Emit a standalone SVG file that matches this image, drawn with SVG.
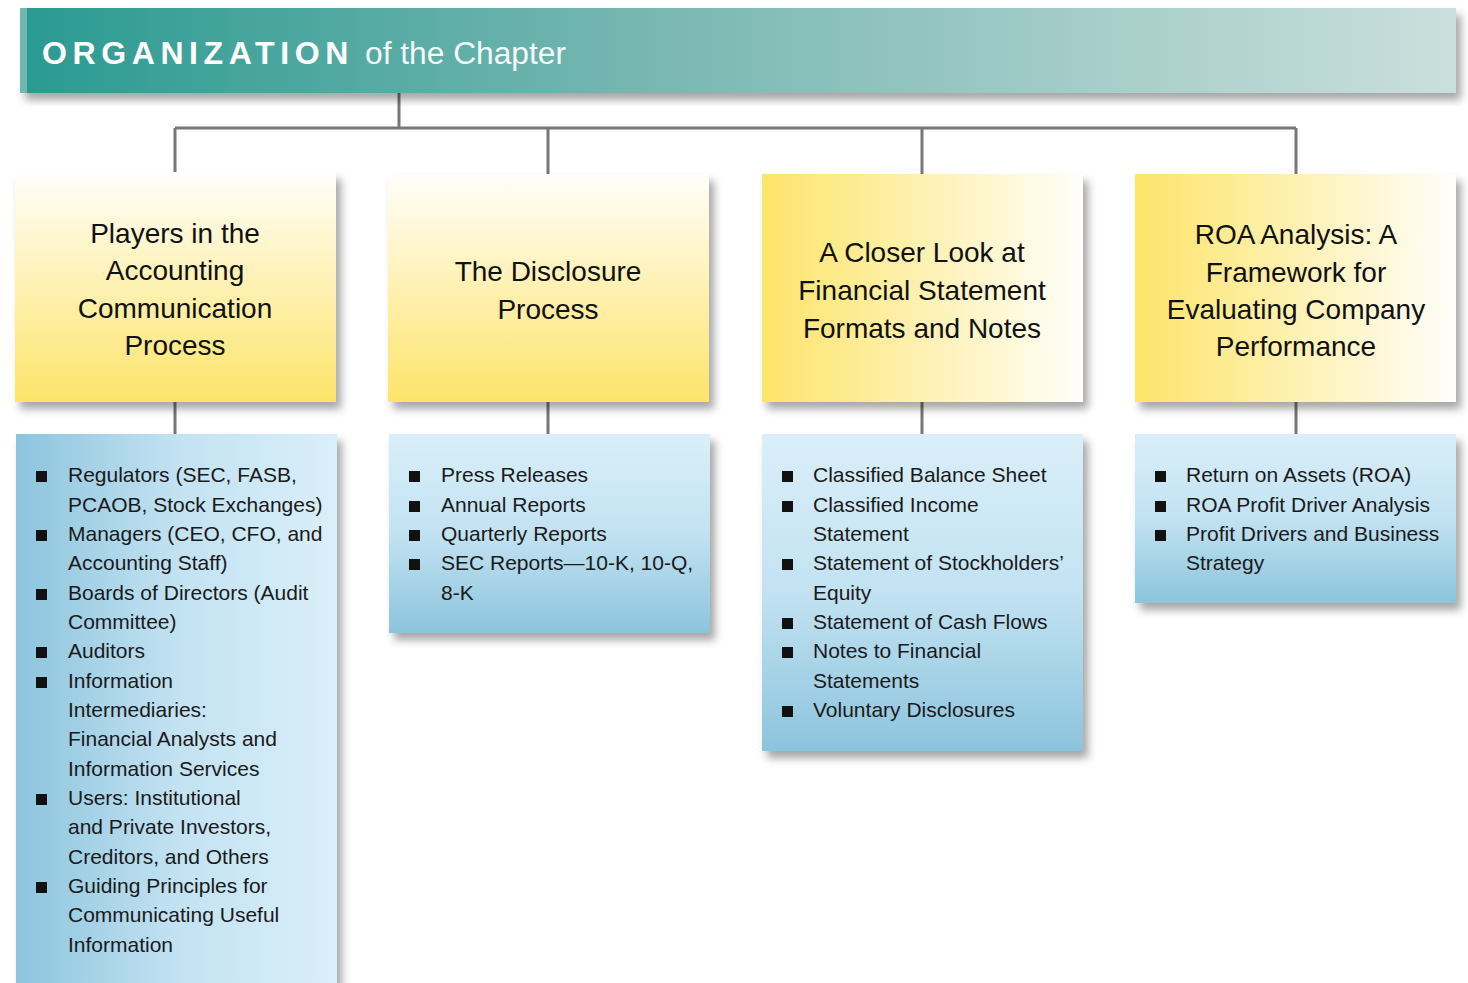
<svg xmlns="http://www.w3.org/2000/svg" width="1468" height="983" viewBox="0 0 1468 983">
<defs>
<linearGradient id="hdr" x1="0" y1="0" x2="1" y2="0">
<stop offset="0" stop-color="#2a9a91"/>
<stop offset="0.45" stop-color="#7ab8b3"/>
<stop offset="1" stop-color="#cadfdc"/>
</linearGradient>
<linearGradient id="yv" x1="0" y1="0" x2="0" y2="1">
<stop offset="0" stop-color="#fffefa"/>
<stop offset="1" stop-color="#fde46a"/>
</linearGradient>
<linearGradient id="yh" x1="0" y1="0" x2="1" y2="0">
<stop offset="0" stop-color="#fde46a"/>
<stop offset="1" stop-color="#fffefa"/>
</linearGradient>
<linearGradient id="bh" x1="0" y1="0" x2="1" y2="0">
<stop offset="0" stop-color="#8cc4dd"/>
<stop offset="0.5" stop-color="#c2e2f2"/>
<stop offset="1" stop-color="#daeff9"/>
</linearGradient>
<linearGradient id="bv" x1="0" y1="0" x2="0" y2="1">
<stop offset="0" stop-color="#daeff9"/>
<stop offset="0.5" stop-color="#c2e2f2"/>
<stop offset="1" stop-color="#8cc4dd"/>
</linearGradient>
<filter id="sh" x="-5%" y="-5%" width="115%" height="120%">
<feDropShadow dx="5" dy="7" stdDeviation="4" flood-color="#000" flood-opacity="0.35"/>
</filter>
</defs>
<style>
.conn{stroke:#777;stroke-width:3;fill:none}
.title{font-family:"Liberation Sans",Arial,sans-serif;font-size:28px;fill:#111;text-anchor:middle}
.item{font-family:"Liberation Sans",Arial,sans-serif;font-size:21px;fill:#1a1a1a}
.bul{fill:#111}
</style>
<rect width="1468" height="983" fill="#fff"/>

<g id="connectors">
<path class="conn" d="M399,93 V128 M175,128 H1296 M175,128 V174 M548,128 V174 M922,128 V174 M1296,128 V174"/>
<path class="conn" d="M175,402 V434 M548,402 V434 M922,402 V434 M1296,402 V434"/>
</g>

<g id="header">
<rect x="20" y="8" width="1436" height="85" fill="url(#hdr)" filter="url(#sh)"/>
<rect x="20" y="8" width="7" height="85" fill="#74b6b0"/>
<text x="42" y="64" font-family="Liberation Sans,Arial,sans-serif" font-size="32" font-weight="bold" fill="#fff" letter-spacing="5.6">ORGANIZATION</text>
<text x="365" y="64" font-family="Liberation Sans,Arial,sans-serif" font-size="31" fill="#f4faf9" textLength="201" lengthAdjust="spacingAndGlyphs">of the Chapter</text>
</g>

<g id="t1">
<rect x="15" y="172" width="321" height="230" fill="url(#yv)" filter="url(#sh)"/>
<text class="title" x="175" y="243">Players in the</text>
<text class="title" x="175" y="280">Accounting</text>
<text class="title" x="175" y="318">Communication</text>
<text class="title" x="175" y="355">Process</text>
</g>
<g id="t2">
<rect x="388" y="174" width="321" height="228" fill="url(#yv)" filter="url(#sh)"/>
<text class="title" x="548" y="281">The Disclosure</text>
<text class="title" x="548" y="319">Process</text>
</g>
<g id="t3">
<rect x="762" y="174" width="321" height="228" fill="url(#yh)" filter="url(#sh)"/>
<text class="title" x="922" y="262">A Closer Look at</text>
<text class="title" x="922" y="300">Financial Statement</text>
<text class="title" x="922" y="338">Formats and Notes</text>
</g>
<g id="t4">
<rect x="1135" y="174" width="321" height="228" fill="url(#yh)" filter="url(#sh)"/>
<text class="title" x="1296" y="244">ROA Analysis: A</text>
<text class="title" x="1296" y="282">Framework for</text>
<text class="title" x="1296" y="319">Evaluating Company</text>
<text class="title" x="1296" y="356">Performance</text>
</g>

<g id="l1">
<rect x="16" y="434" width="321" height="560" fill="url(#bh)" filter="url(#sh)"/>
<rect class="bul" x="36" y="471" width="11" height="11"/>
<rect class="bul" x="36" y="530" width="11" height="11"/>
<rect class="bul" x="36" y="589" width="11" height="11"/>
<rect class="bul" x="36" y="647" width="11" height="11"/>
<rect class="bul" x="36" y="677" width="11" height="11"/>
<rect class="bul" x="36" y="794" width="11" height="11"/>
<rect class="bul" x="36" y="882" width="11" height="11"/>
<text class="item" x="68" y="482">Regulators (SEC, FASB,</text>
<text class="item" x="68" y="512">PCAOB, Stock Exchanges)</text>
<text class="item" x="68" y="541">Managers (CEO, CFO, and</text>
<text class="item" x="68" y="570">Accounting Staff)</text>
<text class="item" x="68" y="600">Boards of Directors (Audit</text>
<text class="item" x="68" y="629">Committee)</text>
<text class="item" x="68" y="658">Auditors</text>
<text class="item" x="68" y="688">Information</text>
<text class="item" x="68" y="717">Intermediaries:</text>
<text class="item" x="68" y="746">Financial Analysts and</text>
<text class="item" x="68" y="776">Information Services</text>
<text class="item" x="68" y="805">Users: Institutional</text>
<text class="item" x="68" y="834">and Private Investors,</text>
<text class="item" x="68" y="864">Creditors, and Others</text>
<text class="item" x="68" y="893">Guiding Principles for</text>
<text class="item" x="68" y="922">Communicating Useful</text>
<text class="item" x="68" y="952">Information</text>
</g>

<g id="l2">
<rect x="389" y="434" width="321" height="199" fill="url(#bv)" filter="url(#sh)"/>
<rect class="bul" x="409" y="471" width="11" height="11"/>
<rect class="bul" x="409" y="501" width="11" height="11"/>
<rect class="bul" x="409" y="530" width="11" height="11"/>
<rect class="bul" x="409" y="559" width="11" height="11"/>
<text class="item" x="441" y="482">Press Releases</text>
<text class="item" x="441" y="512">Annual Reports</text>
<text class="item" x="441" y="541">Quarterly Reports</text>
<text class="item" x="441" y="570">SEC Reports—10-K, 10-Q,</text>
<text class="item" x="441" y="600">8-K</text>
</g>

<g id="l3">
<rect x="762" y="434" width="321" height="317" fill="url(#bv)" filter="url(#sh)"/>
<rect class="bul" x="782" y="471" width="11" height="11"/>
<rect class="bul" x="782" y="501" width="11" height="11"/>
<rect class="bul" x="782" y="559" width="11" height="11"/>
<rect class="bul" x="782" y="618" width="11" height="11"/>
<rect class="bul" x="782" y="647" width="11" height="11"/>
<rect class="bul" x="782" y="706" width="11" height="11"/>
<text class="item" x="813" y="482">Classified Balance Sheet</text>
<text class="item" x="813" y="512">Classified Income</text>
<text class="item" x="813" y="541">Statement</text>
<text class="item" x="813" y="570">Statement of Stockholders’</text>
<text class="item" x="813" y="600">Equity</text>
<text class="item" x="813" y="629">Statement of Cash Flows</text>
<text class="item" x="813" y="658">Notes to Financial</text>
<text class="item" x="813" y="688">Statements</text>
<text class="item" x="813" y="717">Voluntary Disclosures</text>
</g>

<g id="l4">
<rect x="1135" y="434" width="321" height="169" fill="url(#bv)" filter="url(#sh)"/>
<rect class="bul" x="1155" y="471" width="11" height="11"/>
<rect class="bul" x="1155" y="501" width="11" height="11"/>
<rect class="bul" x="1155" y="530" width="11" height="11"/>
<text class="item" x="1186" y="482">Return on Assets (ROA)</text>
<text class="item" x="1186" y="512">ROA Profit Driver Analysis</text>
<text class="item" x="1186" y="541">Profit Drivers and Business</text>
<text class="item" x="1186" y="570">Strategy</text>
</g>
</svg>
